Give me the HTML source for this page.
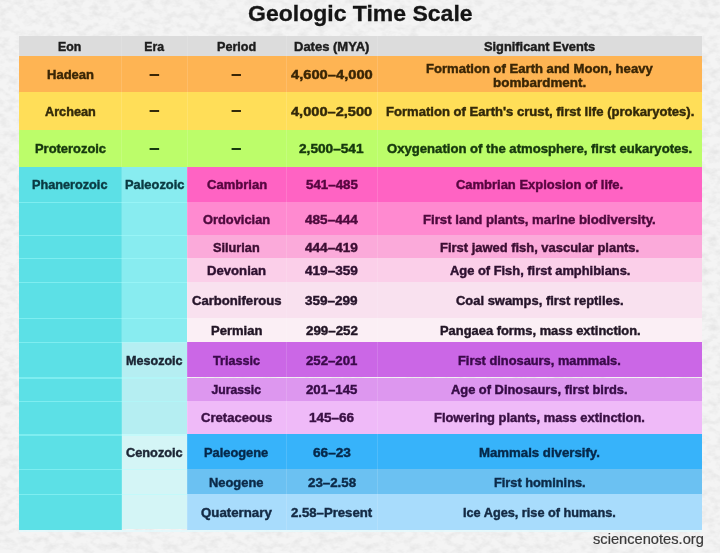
<!DOCTYPE html><html lang="en"><head><meta charset="utf-8"><title>Geologic Time Scale</title><style>
html,body{margin:0;padding:0}body{width:720px;height:553px;overflow:hidden;position:relative;background:#f4f4f4;font-family:"Liberation Sans",Arial,sans-serif}
.c{position:absolute}.t{position:absolute;margin:0;white-space:nowrap;line-height:1;transform-origin:0 0;font-weight:700}.a,.b{-webkit-text-stroke:0.42px currentColor}.title{-webkit-text-stroke:0.3px currentColor}.credit{-webkit-text-stroke:0.2px currentColor}
.a{font-size:12.2px;font-weight:700}
.b{font-size:12.2px;font-weight:700}
.d{font-size:20px;font-weight:700}
.title{font-size:22.6px;font-weight:700}
.credit{font-size:14.6px;font-weight:400}
</style></head><body>
<svg class="c" style="left:0;top:0" width="720" height="553"><filter id="n" x="0" y="0" width="100%" height="100%"><feTurbulence type="fractalNoise" baseFrequency="0.11 0.16" numOctaves="3" seed="7"/><feColorMatrix type="matrix" values="0 0 0 0 0  0 0 0 0 0  0 0 0 0 0  1.6 0 0 0 -0.62"/></filter><rect width="720" height="553" filter="url(#n)" opacity="0.07"/></svg>
<div class="c" style="left:18.6px;top:529.5px;width:683.4px;height:2px;background:rgba(225,250,253,0.75)"></div>
<div class="c" style="left:18.6px;top:36px;width:683.4px;height:19.7px;background:#dcdcdc"></div>
<div class="c" style="left:18.6px;top:55.7px;width:683.4px;height:36.3px;background:#feb453"></div>
<div class="c" style="left:18.6px;top:92px;width:683.4px;height:38px;background:#ffde58"></div>
<div class="c" style="left:18.6px;top:130px;width:683.4px;height:36.5px;background:#bcfd6a"></div>
<div class="c" style="left:187px;top:166.5px;width:515px;height:35.5px;background:#ff63c3"></div>
<div class="c" style="left:187px;top:202px;width:515px;height:32.8px;background:#ff8ad0"></div>
<div class="c" style="left:187px;top:234.8px;width:515px;height:23px;background:#fbaada"></div>
<div class="c" style="left:187px;top:257.8px;width:515px;height:24.2px;background:#fbcfe9"></div>
<div class="c" style="left:187px;top:282px;width:515px;height:35.7px;background:#f9e1ef"></div>
<div class="c" style="left:187px;top:317.7px;width:515px;height:24px;background:#fbeff5"></div>
<div class="c" style="left:187px;top:341.7px;width:515px;height:35.8px;background:#cb67e6"></div>
<div class="c" style="left:187px;top:377.5px;width:515px;height:23.3px;background:#dd97ef"></div>
<div class="c" style="left:187px;top:400.8px;width:515px;height:33.4px;background:#efbaf8"></div>
<div class="c" style="left:187px;top:434.2px;width:515px;height:34.7px;background:#37b3fa"></div>
<div class="c" style="left:187px;top:468.9px;width:515px;height:25.1px;background:#6bc1f2"></div>
<div class="c" style="left:187px;top:494px;width:515px;height:35.5px;background:#a8dcfc"></div>
<div class="c" style="left:18.6px;top:166.5px;width:103px;height:363px;background:#5ce0e6"></div>
<div class="c" style="left:121.6px;top:166.5px;width:65.4px;height:175.2px;background:#88ecf0"></div>
<div class="c" style="left:121.6px;top:341.7px;width:65.4px;height:92.5px;background:#b5eef2"></div>
<div class="c" style="left:121.6px;top:434.2px;width:65.4px;height:95.3px;background:#d4f5f6"></div>
<div class="c" style="left:18.6px;top:201.8px;width:168.4px;height:1.5px;background:rgba(175,255,255,0.42)"></div>
<div class="c" style="left:18.6px;top:234.6px;width:168.4px;height:1.5px;background:rgba(175,255,255,0.42)"></div>
<div class="c" style="left:18.6px;top:257.6px;width:168.4px;height:1.5px;background:rgba(175,255,255,0.42)"></div>
<div class="c" style="left:18.6px;top:281.8px;width:168.4px;height:1.5px;background:rgba(175,255,255,0.42)"></div>
<div class="c" style="left:18.6px;top:317.5px;width:168.4px;height:1.5px;background:rgba(175,255,255,0.42)"></div>
<div class="c" style="left:18.6px;top:341.5px;width:168.4px;height:1.5px;background:rgba(175,255,255,0.42)"></div>
<div class="c" style="left:18.6px;top:377.3px;width:168.4px;height:1.5px;background:rgba(175,255,255,0.42)"></div>
<div class="c" style="left:18.6px;top:400.6px;width:168.4px;height:1.5px;background:rgba(175,255,255,0.42)"></div>
<div class="c" style="left:18.6px;top:434px;width:168.4px;height:1.5px;background:rgba(175,255,255,0.42)"></div>
<div class="c" style="left:18.6px;top:468.7px;width:168.4px;height:1.5px;background:rgba(175,255,255,0.42)"></div>
<div class="c" style="left:18.6px;top:493.8px;width:168.4px;height:1.5px;background:rgba(175,255,255,0.42)"></div>
<div class="c" style="left:121.1px;top:36px;width:1.2px;height:493.5px;background:rgba(255,255,255,0.13)"></div>
<div class="c" style="left:186.5px;top:36px;width:1.2px;height:493.5px;background:rgba(255,255,255,0.13)"></div>
<div class="c" style="left:285.5px;top:36px;width:1.2px;height:493.5px;background:rgba(255,255,255,0.13)"></div>
<div class="c" style="left:377px;top:36px;width:1.2px;height:493.5px;background:rgba(255,255,255,0.13)"></div>
<span class="t a" style="left:58.47px;top:41.30px;color:#1c1c1c;transform:scaleX(1.0109)">Eon</span>
<span class="t a" style="left:144.30px;top:41.30px;color:#1c1c1c;transform:scaleX(1.0000)">Era</span>
<span class="t a" style="left:216.88px;top:41.30px;color:#1c1c1c;transform:scaleX(1.0329)">Period</span>
<span class="t a" style="left:293.88px;top:41.30px;color:#1c1c1c;transform:scaleX(1.0669)">Dates (MYA)</span>
<span class="t b" style="left:483.75px;top:41.30px;color:#1c1c1c;transform:scaleX(1.0519)">Significant Events</span>
<span class="t a" style="left:46.60px;top:68.90px;color:#3a2606;transform:scaleX(1.0682)">Hadean</span>
<span class="t d" style="left:149.00px;top:62.75px;color:#3a2606;transform:scaleX(0.9636)">–</span>
<span class="t d" style="left:231.30px;top:62.75px;color:#3a2606;transform:scaleX(0.9455)">–</span>
<span class="t a" style="left:290.75px;top:68.90px;color:#3a2606;transform:scaleX(1.2059)">4,600–4,000</span>
<span class="t b" style="left:425.75px;top:62.50px;color:#3a2606;transform:scaleX(1.0731)">Formation of Earth and Moon, heavy</span>
<span class="t b" style="left:493.25px;top:76.80px;color:#3a2606;transform:scaleX(1.1012)">bombardment.</span>
<span class="t a" style="left:44.60px;top:105.50px;color:#33290a;transform:scaleX(1.0408)">Archean</span>
<span class="t d" style="left:149.00px;top:99.35px;color:#33290a;transform:scaleX(0.9636)">–</span>
<span class="t d" style="left:231.30px;top:99.35px;color:#33290a;transform:scaleX(0.9455)">–</span>
<span class="t a" style="left:291.00px;top:105.50px;color:#33290a;transform:scaleX(1.1985)">4,000–2,500</span>
<span class="t b" style="left:385.50px;top:105.50px;color:#33290a;transform:scaleX(1.0732)">Formation of Earth's crust, first life (prokaryotes).</span>
<span class="t a" style="left:34.60px;top:143.10px;color:#16380e;transform:scaleX(1.0597)">Proterozoic</span>
<span class="t d" style="left:149.00px;top:136.95px;color:#16380e;transform:scaleX(0.9636)">–</span>
<span class="t d" style="left:231.30px;top:136.95px;color:#16380e;transform:scaleX(0.9455)">–</span>
<span class="t a" style="left:299.25px;top:143.10px;color:#16380e;transform:scaleX(1.1207)">2,500–541</span>
<span class="t b" style="left:386.75px;top:143.10px;color:#16380e;transform:scaleX(1.0757)">Oxygenation of the atmosphere, first eukaryotes.</span>
<span class="t a" style="left:32.10px;top:179.00px;color:#0b3a42;transform:scaleX(1.0411)">Phanerozoic</span>
<span class="t a" style="left:124.68px;top:179.00px;color:#0b3a42;transform:scaleX(1.0580)">Paleozoic</span>
<span class="t a" style="left:125.93px;top:354.50px;color:#1b2433;transform:scaleX(1.0318)">Mesozoic</span>
<span class="t a" style="left:126.05px;top:447.00px;color:#1b2433;transform:scaleX(1.0463)">Cenozoic</span>
<span class="t a" style="left:206.50px;top:179.20px;color:#56063f;transform:scaleX(1.0714)">Cambrian</span>
<span class="t a" style="left:305.50px;top:179.20px;color:#56063f;transform:scaleX(1.0938)">541–485</span>
<span class="t b" style="left:456.00px;top:179.20px;color:#56063f;transform:scaleX(1.0637)">Cambrian Explosion of life.</span>
<span class="t a" style="left:202.75px;top:213.80px;color:#4d0a3d;transform:scaleX(1.0547)">Ordovician</span>
<span class="t a" style="left:305.00px;top:213.80px;color:#4d0a3d;transform:scaleX(1.1146)">485–444</span>
<span class="t b" style="left:423.25px;top:213.80px;color:#4d0a3d;transform:scaleX(1.0814)">First land plants, marine biodiversity.</span>
<span class="t a" style="left:213.00px;top:242.10px;color:#3c0e33;transform:scaleX(1.0444)">Silurian</span>
<span class="t a" style="left:305.00px;top:242.10px;color:#3c0e33;transform:scaleX(1.1146)">444–419</span>
<span class="t b" style="left:440.25px;top:242.10px;color:#3c0e33;transform:scaleX(1.0615)">First jawed fish, vascular plants.</span>
<span class="t a" style="left:206.88px;top:265.10px;color:#2e1030;transform:scaleX(1.0773)">Devonian</span>
<span class="t a" style="left:305.00px;top:265.10px;color:#2e1030;transform:scaleX(1.1146)">419–359</span>
<span class="t b" style="left:449.62px;top:265.10px;color:#2e1030;transform:scaleX(1.0574)">Age of Fish, first amphibians.</span>
<span class="t a" style="left:191.88px;top:294.50px;color:#26142a;transform:scaleX(1.0753)">Carboniferous</span>
<span class="t a" style="left:305.12px;top:294.50px;color:#26142a;transform:scaleX(1.1094)">359–299</span>
<span class="t b" style="left:455.62px;top:294.50px;color:#26142a;transform:scaleX(1.0617)">Coal swamps, first reptiles.</span>
<span class="t a" style="left:210.88px;top:324.60px;color:#221626;transform:scaleX(1.0677)">Permian</span>
<span class="t a" style="left:305.50px;top:324.60px;color:#221626;transform:scaleX(1.0938)">299–252</span>
<span class="t b" style="left:439.50px;top:324.60px;color:#221626;transform:scaleX(1.0582)">Pangaea forms, mass extinction.</span>
<span class="t a" style="left:213.25px;top:354.50px;color:#3a0a4a;transform:scaleX(1.0333)">Triassic</span>
<span class="t a" style="left:305.75px;top:354.50px;color:#3a0a4a;transform:scaleX(1.0833)">252–201</span>
<span class="t b" style="left:458.38px;top:354.50px;color:#3a0a4a;transform:scaleX(1.0536)">First dinosaurs, mammals.</span>
<span class="t a" style="left:211.50px;top:384.40px;color:#360c46;transform:scaleX(1.0000)">Jurassic</span>
<span class="t a" style="left:305.75px;top:384.40px;color:#360c46;transform:scaleX(1.0833)">201–145</span>
<span class="t b" style="left:451.38px;top:384.40px;color:#360c46;transform:scaleX(1.0554)">Age of Dinosaurs, first birds.</span>
<span class="t a" style="left:201.12px;top:412.10px;color:#3a1044;transform:scaleX(1.0720)">Cretaceous</span>
<span class="t a" style="left:309.00px;top:412.10px;color:#3a1044;transform:scaleX(1.1098)">145–66</span>
<span class="t b" style="left:434.12px;top:412.10px;color:#3a1044;transform:scaleX(1.0590)">Flowering plants, mass extinction.</span>
<span class="t a" style="left:204.38px;top:446.90px;color:#06284a;transform:scaleX(1.0533)">Paleogene</span>
<span class="t a" style="left:312.75px;top:446.90px;color:#06284a;transform:scaleX(1.1176)">66–23</span>
<span class="t b" style="left:479.38px;top:446.90px;color:#06284a;transform:scaleX(1.0833)">Mammals diversify.</span>
<span class="t a" style="left:209.00px;top:477.30px;color:#0c2a48;transform:scaleX(1.0577)">Neogene</span>
<span class="t a" style="left:307.75px;top:477.30px;color:#0c2a48;transform:scaleX(1.0909)">23–2.58</span>
<span class="t b" style="left:493.88px;top:477.30px;color:#0c2a48;transform:scaleX(1.0489)">First hominins.</span>
<span class="t a" style="left:201.12px;top:506.90px;color:#142a44;transform:scaleX(1.0885)">Quaternary</span>
<span class="t a" style="left:290.75px;top:506.90px;color:#142a44;transform:scaleX(1.0789)">2.58–Present</span>
<span class="t b" style="left:463.38px;top:506.90px;color:#142a44;transform:scaleX(1.0428)">Ice Ages, rise of humans.</span>
<h1 class="t title" style="left:247.75px;top:3.00px;color:#151515;transform:scaleX(1.0182)">Geologic Time Scale</h1>
<span class="t credit" style="left:593.00px;top:532.00px;color:#3a3a3a;transform:scaleX(1.0045)">sciencenotes.org</span>
</body></html>
